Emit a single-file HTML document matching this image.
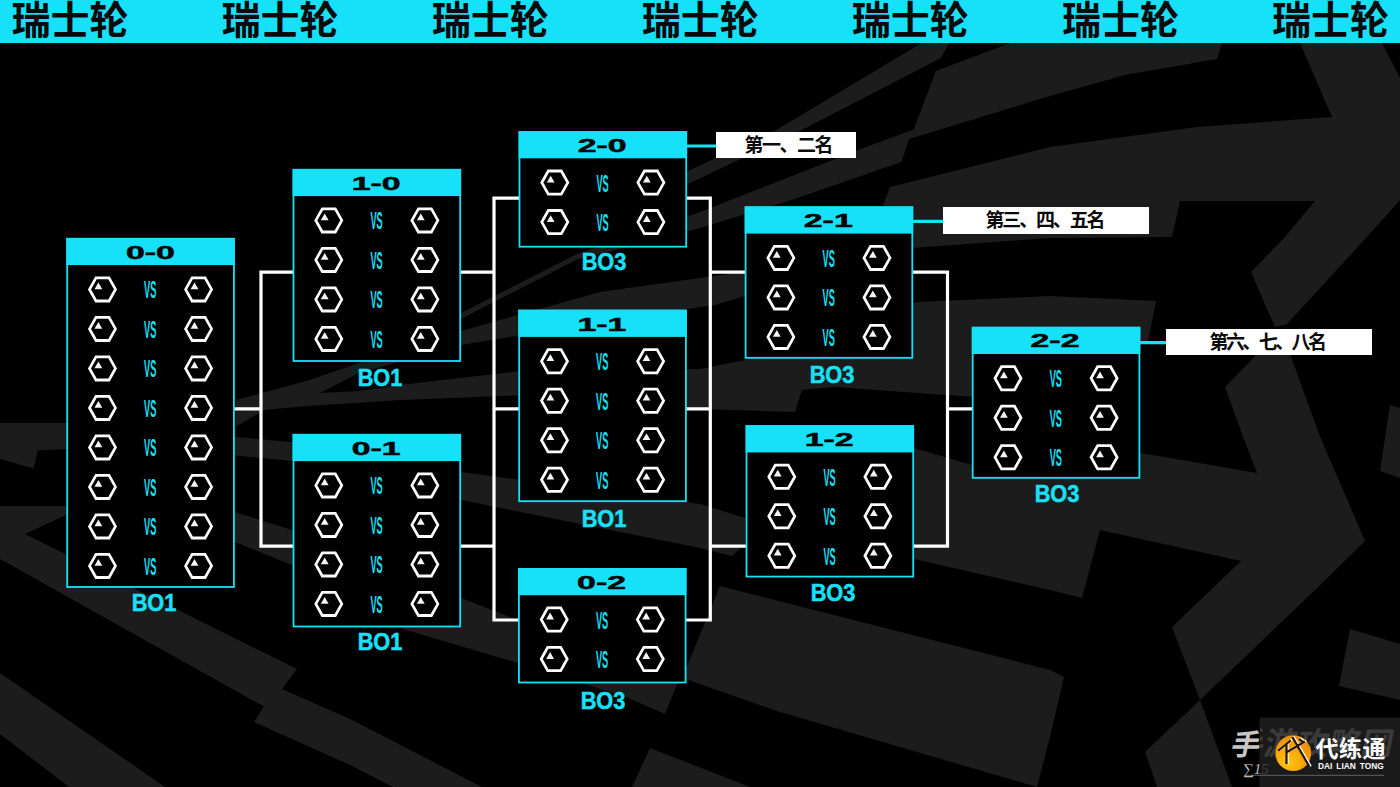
<!DOCTYPE html>
<html lang="zh"><head><meta charset="utf-8"><title>瑞士轮</title>
<style>
html,body{margin:0;padding:0;background:#000;}
body{width:1400px;height:787px;position:relative;overflow:hidden;font-family:"Liberation Sans",sans-serif;}
.abs{position:absolute;}
svg.full{position:absolute;left:0;top:0;width:1400px;height:787px;overflow:visible;}
.sr{position:absolute;width:1px;height:1px;overflow:hidden;clip:rect(0 0 0 0);white-space:nowrap;color:transparent;font-size:1px;}
.bo{position:absolute;color:#17e1f8;font-weight:bold;font-size:24px;line-height:24px;height:24px;width:80px;text-align:center;-webkit-text-stroke:0.5px #17e1f8;transform:scaleX(0.905);}
.box{position:absolute;background:#000;border:2px solid #17e1f8;box-sizing:border-box;}
.hdr{position:absolute;left:-2px;right:-2px;top:-2px;background:#17e1f8;}
.lab{position:absolute;background:#fff;}
.vs{font-family:"Liberation Sans",sans-serif;font-weight:bold;font-size:24.8px;fill:#17e1f8;text-anchor:middle;}
.sc{font-family:"Liberation Sans",sans-serif;font-weight:bold;font-size:18.3px;fill:#050505;stroke:#050505;stroke-width:0.5px;text-anchor:middle;}
.rsl{font-family:"Liberation Sans","Noto Sans CJK SC",sans-serif;font-weight:bold;font-size:39px;fill:#0a0a0a;}
.lb{font-family:"Liberation Sans","Noto Sans CJK SC",sans-serif;font-weight:bold;font-size:19px;fill:#0a0a0a;}
</style></head><body>

<svg class="full" viewBox="0 0 1400 787"><rect width="1400" height="787" fill="#000"/><g fill="#1c1c1c"><polygon points="921.7,43 949,43 941,58 800.8,130.5 690,183 600,228 690,170 775.4,130.5"/><polygon points="1010,43 1222,43 1217,59 1125,75 1050,96 909,139 901.4,162 791.6,200 700,228 640,244 577,259.5 461,319 440,327 461,313 577,254 700,212 730.7,200 858.7,149.8 913.6,129.4 936,71"/><polygon points="890,187 1050,147 1197,127 1332,117 1300,43 1382,43 1400,78 1400,200 1367,237 1287,324 1275,327 1251,272 1285,237 1315,201 1180,201 1172,237 1050,238 912,248 745,296 715,305 600,322 461,345 359,373 320,393 236,410 236,400 308,380.5 359,363 461,331 600,292 707,277 745,272 870,240"/><polygon points="236,405 320,393 359,391 408,384 530,370 700,369 745,360 917,302 1050,296 1156,301 1148,341.5 1100,341.5 1100,405 975,397 835,387 802,390 795,412 700,409 530,395 401,400 308,406 264,410 236,426.6"/><polygon points="0,423 66,423 235,437 292,442 461,472 700,504 745,518 745,544 732,556 700,548 461,500 292,461 235,455.5 66,449 37.8,450.5 33.6,468.5 0,459"/><polygon points="0,506 66,506 235,512 292,530 461,598 518,620 687,666 720,586 1050,670 1064,677 1050,737 1037,787 780,712 687.5,679.7 677,684 665,714 626,697 518,663 403,629 292,565 235,542 66,515 25,534 297,669 282,689 350,719 482,787 393,787 350,765 254,722 264,706.6 0,559"/><polygon points="0,673 165,787 69,787 0,734"/><polygon points="650,748 750,787 632,787"/><polygon points="914,448 972,465 980,440 1100,440 1141,453 1257,473 1242,434 1225,387 1257,354 1290,354 1319,434 1365,541 1315,590 1200,700 1172,627 1241,561 1100,530 1082,598 1050,590 914,559"/><polygon points="1200,700 1232,787 1157,787 1145,752"/><polygon points="1390,405 1400,408 1400,478 1380,471"/><polygon points="1350,629 1400,644 1400,700 1339,686"/></g><rect x="1259.5" y="717.5" width="141" height="70" fill="#fff" fill-opacity="0.10"/></svg>
<svg class="full" viewBox="0 0 1400 787"><defs>
<g id="hx"><polygon points="13.00,0.00 6.50,11.26 -6.50,11.26 -13.00,0.00 -6.50,-11.26 6.50,-11.26" fill="none" stroke="#fff" stroke-width="2.7" stroke-linejoin="miter" transform="scale(1 1.03)"/><polygon points="-4.1,-6.9 -8.0,-0.1 -0.2,-0.1" fill="#f4f4f4"/></g>
</defs></svg>
<div class="abs" style="left:0;top:0;width:1400px;height:42.6px;background:#17e1f8"><span class="sr">瑞士轮 瑞士轮 瑞士轮 瑞士轮 瑞士轮 瑞士轮 瑞士轮</span></div>
<svg class="full" viewBox="0 0 1400 787">
<text class="rsl" x="11.5" y="34" textLength="117" lengthAdjust="spacing">瑞士轮</text>
<text class="rsl" x="221.6" y="34" textLength="117" lengthAdjust="spacing">瑞士轮</text>
<text class="rsl" x="431.7" y="34" textLength="117" lengthAdjust="spacing">瑞士轮</text>
<text class="rsl" x="641.7" y="34" textLength="117" lengthAdjust="spacing">瑞士轮</text>
<text class="rsl" x="851.8" y="34" textLength="117" lengthAdjust="spacing">瑞士轮</text>
<text class="rsl" x="1061.9" y="34" textLength="117" lengthAdjust="spacing">瑞士轮</text>
<text class="rsl" x="1272.0" y="34" textLength="117" lengthAdjust="spacing">瑞士轮</text>
</svg>
<svg class="full" viewBox="0 0 1400 787"><path d="M294 272.2H261.0V546.2H294 M234 408.8H261.0" stroke="#fff" stroke-width="3.2" fill="none" stroke-linejoin="miter"/><path d="M520 198.2H494.0V620.0H520 M460 272.2H494.0 M460 546.2H494.0 M494.0 408.8H520" stroke="#fff" stroke-width="3.2" fill="none" stroke-linejoin="miter"/><path d="M686 198.2H710.3V620.0H686 M686 408.8H710.3 M710.3 272.2H746 M710.3 546.2H746" stroke="#fff" stroke-width="3.2" fill="none" stroke-linejoin="miter"/><path d="M912 272.2H947.5V546.2H912 M947.5 408.8H974" stroke="#fff" stroke-width="3.2" fill="none" stroke-linejoin="miter"/><path d="M686 146H717 M912 221.4H944 M1140 342.7H1167" stroke="#17e1f8" stroke-width="3.2" fill="none" stroke-linejoin="miter"/></svg>
<div class="bo" style="left:113.8px;top:591.4px">BO1</div>
<span class="sr">0-0 VS VS VS VS VS VS VS VS</span>
<div class="bo" style="left:340.1px;top:366.0px">BO1</div>
<span class="sr">1-0 VS VS VS VS</span>
<div class="bo" style="left:340.1px;top:629.7px">BO1</div>
<span class="sr">0-1 VS VS VS VS</span>
<div class="bo" style="left:564.3px;top:249.9px">BO3</div>
<span class="sr">2-0 VS VS</span>
<div class="bo" style="left:564.2px;top:507.1px">BO1</div>
<span class="sr">1-1 VS VS VS VS</span>
<div class="bo" style="left:563.3px;top:688.8px">BO3</div>
<span class="sr">0-2 VS VS</span>
<div class="bo" style="left:792.1px;top:363.3px">BO3</div>
<span class="sr">2-1 VS VS VS</span>
<div class="bo" style="left:793.0px;top:581.1px">BO3</div>
<span class="sr">1-2 VS VS VS</span>
<div class="bo" style="left:1016.9px;top:481.6px">BO3</div>
<span class="sr">2-2 VS VS VS</span>
<svg class="full" viewBox="0 0 1400 787"><rect x="67.20" y="238.80" width="166.70" height="348.20" fill="#000" stroke="#17e1f8" stroke-width="1.8"/><rect x="66.30" y="237.90" width="168.50" height="27.20" fill="#17e1f8"/><rect x="293.50" y="169.80" width="166.70" height="191.20" fill="#000" stroke="#17e1f8" stroke-width="1.8"/><rect x="292.60" y="168.90" width="168.50" height="27.20" fill="#17e1f8"/><rect x="293.50" y="434.80" width="166.70" height="191.70" fill="#000" stroke="#17e1f8" stroke-width="1.8"/><rect x="292.60" y="433.90" width="168.50" height="27.20" fill="#17e1f8"/><rect x="519.50" y="132.00" width="166.70" height="114.70" fill="#000" stroke="#17e1f8" stroke-width="1.8"/><rect x="518.60" y="131.10" width="168.50" height="27.20" fill="#17e1f8"/><rect x="519.20" y="310.60" width="166.70" height="190.60" fill="#000" stroke="#17e1f8" stroke-width="1.8"/><rect x="518.30" y="309.70" width="168.50" height="27.20" fill="#17e1f8"/><rect x="518.90" y="568.90" width="166.70" height="113.60" fill="#000" stroke="#17e1f8" stroke-width="1.8"/><rect x="518.00" y="568.00" width="168.50" height="27.20" fill="#17e1f8"/><rect x="745.60" y="207.30" width="166.70" height="150.50" fill="#000" stroke="#17e1f8" stroke-width="1.8"/><rect x="744.70" y="206.40" width="168.50" height="27.20" fill="#17e1f8"/><rect x="746.50" y="426.10" width="166.70" height="150.50" fill="#000" stroke="#17e1f8" stroke-width="1.8"/><rect x="745.60" y="425.20" width="168.50" height="27.20" fill="#17e1f8"/><rect x="972.70" y="327.70" width="166.70" height="150.10" fill="#000" stroke="#17e1f8" stroke-width="1.8"/><rect x="971.80" y="326.80" width="168.50" height="27.20" fill="#17e1f8"/></svg>
<svg class="full" viewBox="0 0 1400 787"><text class="sc" transform="translate(150.35 258.8) scale(1.85 1)">0-0</text><use href="#hx" x="102.5" y="289.4"/><text class="vs" transform="translate(150.2 289.5) scale(0.37 1)" y="8.9">VS</text><use href="#hx" x="198.6" y="289.4"/><use href="#hx" x="102.5" y="328.9"/><text class="vs" transform="translate(150.2 329.0) scale(0.37 1)" y="8.9">VS</text><use href="#hx" x="198.6" y="328.9"/><use href="#hx" x="102.5" y="368.4"/><text class="vs" transform="translate(150.2 368.5) scale(0.37 1)" y="8.9">VS</text><use href="#hx" x="198.6" y="368.4"/><use href="#hx" x="102.5" y="407.9"/><text class="vs" transform="translate(150.2 408.0) scale(0.37 1)" y="8.9">VS</text><use href="#hx" x="198.6" y="407.9"/><use href="#hx" x="102.5" y="447.4"/><text class="vs" transform="translate(150.2 447.5) scale(0.37 1)" y="8.9">VS</text><use href="#hx" x="198.6" y="447.4"/><use href="#hx" x="102.5" y="486.9"/><text class="vs" transform="translate(150.2 487.0) scale(0.37 1)" y="8.9">VS</text><use href="#hx" x="198.6" y="486.9"/><use href="#hx" x="102.5" y="526.4"/><text class="vs" transform="translate(150.2 526.5) scale(0.37 1)" y="8.9">VS</text><use href="#hx" x="198.6" y="526.4"/><use href="#hx" x="102.5" y="565.9"/><text class="vs" transform="translate(150.2 566.0) scale(0.37 1)" y="8.9">VS</text><use href="#hx" x="198.6" y="565.9"/><text class="sc" transform="translate(376.15 190.2) scale(1.85 1)">1-0</text><use href="#hx" x="328.8" y="220.4"/><text class="vs" transform="translate(376.6 220.5) scale(0.37 1)" y="8.9">VS</text><use href="#hx" x="424.9" y="220.4"/><use href="#hx" x="328.8" y="259.9"/><text class="vs" transform="translate(376.6 260.0) scale(0.37 1)" y="8.9">VS</text><use href="#hx" x="424.9" y="259.9"/><use href="#hx" x="328.8" y="299.4"/><text class="vs" transform="translate(376.6 299.5) scale(0.37 1)" y="8.9">VS</text><use href="#hx" x="424.9" y="299.4"/><use href="#hx" x="328.8" y="338.9"/><text class="vs" transform="translate(376.6 339.0) scale(0.37 1)" y="8.9">VS</text><use href="#hx" x="424.9" y="338.9"/><text class="sc" transform="translate(376.15 454.7) scale(1.85 1)">0-1</text><use href="#hx" x="328.8" y="485.4"/><text class="vs" transform="translate(376.6 485.5) scale(0.37 1)" y="8.9">VS</text><use href="#hx" x="424.9" y="485.4"/><use href="#hx" x="328.8" y="524.9"/><text class="vs" transform="translate(376.6 525.0) scale(0.37 1)" y="8.9">VS</text><use href="#hx" x="424.9" y="524.9"/><use href="#hx" x="328.8" y="564.4"/><text class="vs" transform="translate(376.6 564.5) scale(0.37 1)" y="8.9">VS</text><use href="#hx" x="424.9" y="564.4"/><use href="#hx" x="328.8" y="603.9"/><text class="vs" transform="translate(376.6 604.0) scale(0.37 1)" y="8.9">VS</text><use href="#hx" x="424.9" y="603.9"/><text class="sc" transform="translate(602.15 151.9) scale(1.85 1)">2-0</text><use href="#hx" x="554.8" y="182.6"/><text class="vs" transform="translate(602.6 182.7) scale(0.37 1)" y="8.9">VS</text><use href="#hx" x="650.9" y="182.6"/><use href="#hx" x="554.8" y="222.1"/><text class="vs" transform="translate(602.6 222.2) scale(0.37 1)" y="8.9">VS</text><use href="#hx" x="650.9" y="222.1"/><text class="sc" transform="translate(601.85 330.5) scale(1.85 1)">1-1</text><use href="#hx" x="554.5" y="361.2"/><text class="vs" transform="translate(602.2 361.3) scale(0.37 1)" y="8.9">VS</text><use href="#hx" x="650.6" y="361.2"/><use href="#hx" x="554.5" y="400.7"/><text class="vs" transform="translate(602.2 400.8) scale(0.37 1)" y="8.9">VS</text><use href="#hx" x="650.6" y="400.7"/><use href="#hx" x="554.5" y="440.2"/><text class="vs" transform="translate(602.2 440.3) scale(0.37 1)" y="8.9">VS</text><use href="#hx" x="650.6" y="440.2"/><use href="#hx" x="554.5" y="479.7"/><text class="vs" transform="translate(602.2 479.8) scale(0.37 1)" y="8.9">VS</text><use href="#hx" x="650.6" y="479.7"/><text class="sc" transform="translate(601.55 588.8) scale(1.85 1)">0-2</text><use href="#hx" x="554.2" y="619.5"/><text class="vs" transform="translate(602.0 619.6) scale(0.37 1)" y="8.9">VS</text><use href="#hx" x="650.3" y="619.5"/><use href="#hx" x="554.2" y="659.0"/><text class="vs" transform="translate(602.0 659.1) scale(0.37 1)" y="8.9">VS</text><use href="#hx" x="650.3" y="659.0"/><text class="sc" transform="translate(828.25 227.2) scale(1.85 1)">2-1</text><use href="#hx" x="780.9" y="257.9"/><text class="vs" transform="translate(828.7 258.0) scale(0.37 1)" y="8.9">VS</text><use href="#hx" x="877.0" y="257.9"/><use href="#hx" x="780.9" y="297.4"/><text class="vs" transform="translate(828.7 297.5) scale(0.37 1)" y="8.9">VS</text><use href="#hx" x="877.0" y="297.4"/><use href="#hx" x="780.9" y="336.9"/><text class="vs" transform="translate(828.7 337.0) scale(0.37 1)" y="8.9">VS</text><use href="#hx" x="877.0" y="336.9"/><text class="sc" transform="translate(829.15 446) scale(1.85 1)">1-2</text><use href="#hx" x="781.8" y="476.7"/><text class="vs" transform="translate(829.6 476.8) scale(0.37 1)" y="8.9">VS</text><use href="#hx" x="877.9" y="476.7"/><use href="#hx" x="781.8" y="516.2"/><text class="vs" transform="translate(829.6 516.3) scale(0.37 1)" y="8.9">VS</text><use href="#hx" x="877.9" y="516.2"/><use href="#hx" x="781.8" y="555.7"/><text class="vs" transform="translate(829.6 555.8) scale(0.37 1)" y="8.9">VS</text><use href="#hx" x="877.9" y="555.7"/><text class="sc" transform="translate(1055 347.1) scale(1.85 1)">2-2</text><use href="#hx" x="1008.0" y="378.3"/><text class="vs" transform="translate(1055.8 378.4) scale(0.37 1)" y="8.9">VS</text><use href="#hx" x="1104.1" y="378.3"/><use href="#hx" x="1008.0" y="417.8"/><text class="vs" transform="translate(1055.8 417.9) scale(0.37 1)" y="8.9">VS</text><use href="#hx" x="1104.1" y="417.8"/><use href="#hx" x="1008.0" y="457.3"/><text class="vs" transform="translate(1055.8 457.4) scale(0.37 1)" y="8.9">VS</text><use href="#hx" x="1104.1" y="457.3"/></svg>
<div class="lab" style="left:716.4px;top:132.1px;width:139.3px;height:26.2px"><span class="sr">第一、二名</span></div>
<div class="lab" style="left:943.1px;top:207.3px;width:206.2px;height:26.3px"><span class="sr">第三、四、五名</span></div>
<div class="lab" style="left:1165.8px;top:329.1px;width:206.2px;height:25.8px"><span class="sr">第六、七、八名</span></div>
<svg class="full" viewBox="0 0 1400 787"><text class="lb" x="744.5" y="152" textLength="89" lengthAdjust="spacing">第一、二名</text><text class="lb" x="985.5" y="227.3" textLength="120" lengthAdjust="spacing">第三、四、五名</text><text class="lb" x="1209.5" y="349" textLength="117.5" lengthAdjust="spacing">第六、七、八名</text></svg>
<svg class="full" viewBox="0 0 1400 787"><defs><radialGradient id="og" cx="0.35" cy="0.75" r="0.9"><stop offset="0" stop-color="#ffc61a"/><stop offset="0.45" stop-color="#f9a602"/><stop offset="1" stop-color="#e27f00"/></radialGradient><clipPath id="cpL"><rect x="1200" y="700" width="60" height="87"/></clipPath><clipPath id="cpR"><rect x="1260" y="700" width="140" height="87"/></clipPath></defs><text x="1229" y="755" transform="matrix(1 0 -0.1944 1 147.50 0)" font-family="'Liberation Sans','Noto Sans CJK SC',sans-serif" font-weight="bold" font-size="29" fill="#c6c6c6">手</text><g clip-path="url(#cpR)"><text x="1230" y="755.5" transform="matrix(1 0 -0.1944 1 147.50 0)" font-family="'Liberation Sans','Noto Sans CJK SC',sans-serif" font-weight="bold" font-size="32" textLength="161" lengthAdjust="spacing" fill="#3b3b3b">手游攻略网</text></g><path d="M1244 775.3H1384" stroke="#6a6a6a" stroke-width="0.9"/><text x="1243" y="774" font-family="Liberation Serif, serif" font-style="italic" font-size="15" fill="#bdbdbd" clip-path="url(#cpL)">∑15</text><text x="1243" y="774" font-family="Liberation Serif, serif" font-style="italic" font-size="15" fill="#454545" clip-path="url(#cpR)">∑15</text><circle cx="1293.3" cy="753.1" r="17.9" fill="url(#og)"/><path d="M1279 750 L1290 741 M1286.5 745 L1286.5 763 M1288 751.5 L1304 742 M1293 738 L1309 766 M1300 739.5 L1303 742" stroke="#fff" stroke-width="2.6" fill="none" stroke-linecap="square" transform="translate(0.9 -0.6)"/><path d="M1279 750 L1290 741 M1286.5 745 L1286.5 763 M1288 751.5 L1304 742 M1293 738 L1309 766 M1300 739.5 L1303 742" stroke="#2a1200" stroke-width="2.2" fill="none" stroke-linecap="square"/><text x="1315.5" y="756.5" font-family="'Liberation Sans','Noto Sans CJK SC',sans-serif" font-weight="bold" font-size="23" textLength="70" lengthAdjust="spacing" fill="#fff">代练通</text></svg><div class="abs" style="left:1317.6px;top:761.2px;width:70px;height:10px;line-height:10px;font-size:9px;font-weight:bold;color:#fff;white-space:nowrap;word-spacing:1.8px;transform:scaleX(0.925);transform-origin:0 0">DAI LIAN TONG</div><span class="sr">手游攻略网 代练通</span>
</body></html>
